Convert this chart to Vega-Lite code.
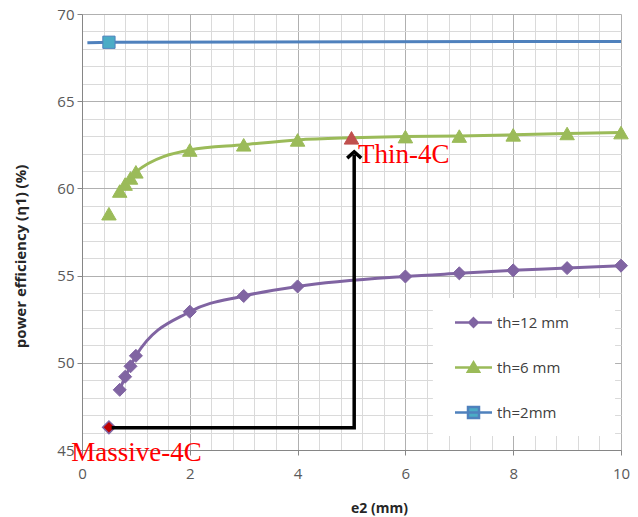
{
  "$schema": "https://vega.github.io/schema/vega-lite/v6.json",
  "width": 539,
  "height": 436,
  "autosize": {"type": "none"},
  "padding": {"left": 82, "top": 14, "right": 17, "bottom": 67},
  "background": "white",
  "config": {"view": {"stroke": null}, "font": "Open Sans"},
  "resolve": {"axis": {"x": "independent", "y": "independent"}},
  "datasets": {
    "series": [
      {"s": "th=12 mm", "x": 0.5, "y": 46.3, "ln": 0, "pt": 0, "hl": 1},
      {"s": "th=12 mm", "x": 0.7, "y": 48.45, "ln": 1, "pt": 1, "hl": 0},
      {"s": "th=12 mm", "x": 0.8, "y": 49.2, "ln": 1, "pt": 1, "hl": 0},
      {"s": "th=12 mm", "x": 0.9, "y": 49.8, "ln": 1, "pt": 1, "hl": 0},
      {"s": "th=12 mm", "x": 1.0, "y": 50.4, "ln": 1, "pt": 1, "hl": 0},
      {"s": "th=12 mm", "x": 2, "y": 52.93, "ln": 1, "pt": 1, "hl": 0},
      {"s": "th=12 mm", "x": 3, "y": 53.83, "ln": 1, "pt": 1, "hl": 0},
      {"s": "th=12 mm", "x": 4, "y": 54.38, "ln": 1, "pt": 1, "hl": 0},
      {"s": "th=12 mm", "x": 6, "y": 54.95, "ln": 1, "pt": 1, "hl": 0},
      {"s": "th=12 mm", "x": 7, "y": 55.13, "ln": 1, "pt": 1, "hl": 0},
      {"s": "th=12 mm", "x": 8, "y": 55.3, "ln": 1, "pt": 1, "hl": 0},
      {"s": "th=12 mm", "x": 9, "y": 55.43, "ln": 1, "pt": 1, "hl": 0},
      {"s": "th=12 mm", "x": 10, "y": 55.57, "ln": 1, "pt": 1, "hl": 0},
      {"s": "th=6 mm", "x": 0.5, "y": 58.55, "ln": 0, "pt": 1, "hl": 0},
      {"s": "th=6 mm", "x": 0.7, "y": 59.85, "ln": 1, "pt": 1, "hl": 0},
      {"s": "th=6 mm", "x": 0.8, "y": 60.25, "ln": 1, "pt": 1, "hl": 0},
      {"s": "th=6 mm", "x": 0.9, "y": 60.6, "ln": 1, "pt": 1, "hl": 0},
      {"s": "th=6 mm", "x": 1.0, "y": 60.95, "ln": 1, "pt": 1, "hl": 0},
      {"s": "th=6 mm", "x": 2, "y": 62.2, "ln": 1, "pt": 1, "hl": 0},
      {"s": "th=6 mm", "x": 3, "y": 62.5, "ln": 1, "pt": 1, "hl": 0},
      {"s": "th=6 mm", "x": 4, "y": 62.78, "ln": 1, "pt": 1, "hl": 0},
      {"s": "th=6 mm", "x": 5, "y": 62.9, "ln": 1, "pt": 0, "hl": 1},
      {"s": "th=6 mm", "x": 6, "y": 62.97, "ln": 1, "pt": 1, "hl": 0},
      {"s": "th=6 mm", "x": 7, "y": 63.0, "ln": 1, "pt": 1, "hl": 0},
      {"s": "th=6 mm", "x": 8, "y": 63.07, "ln": 1, "pt": 1, "hl": 0},
      {"s": "th=6 mm", "x": 9, "y": 63.15, "ln": 1, "pt": 1, "hl": 0},
      {"s": "th=6 mm", "x": 10, "y": 63.2, "ln": 1, "pt": 1, "hl": 0},
      {"s": "th=2mm", "x": 0.1, "y": 68.35, "ln": 1, "pt": 0, "hl": 0},
      {"s": "th=2mm", "x": 0.5, "y": 68.38, "ln": 1, "pt": 1, "hl": 0},
      {"s": "th=2mm", "x": 10, "y": 68.43, "ln": 1, "pt": 0, "hl": 0}
    ],
    "arrow": [
      {"x": 0.55, "y": 46.28, "k": 1},
      {"x": 5.05, "y": 46.28, "k": 2},
      {"x": 5.05, "y": 61.95, "k": 3}
    ],
    "head": [{"x": 5.05, "y": 62.1}],
    "notes": [
      {"t": "Massive-4C", "x": -0.2, "y": 44.36},
      {"t": "Thin-4C", "x": 5.12, "y": 61.45}
    ]
  },
  "layer": [
    {
      "data": {"values": [{}]},
      "mark": {"type": "rect", "fill": "white"},
      "encoding": {
        "x": {
          "datum": 6.51,
          "type": "quantitative",
          "scale": {"domain": [0, 10], "nice": false, "zero": false},
          "axis": {
            "orient": "bottom",
            "title": null,
            "values": [0, 0.4, 0.8, 1.2, 1.6, 2.4, 2.8, 3.2, 3.6, 4.4, 4.8, 5.2, 5.6, 6.4, 6.8, 7.2, 7.6, 8.4, 8.8, 9.2, 9.6],
            "labels": false,
            "ticks": false,
            "domain": false,
            "grid": true,
            "gridColor": "#dadada",
            "gridWidth": 1
          }
        },
        "x2": {"datum": 9.89},
        "y": {
          "datum": 53.72,
          "type": "quantitative",
          "scale": {"domain": [45, 70], "nice": false, "zero": false},
          "axis": {
            "orient": "left",
            "title": null,
            "values": [46, 47, 48, 49, 51, 52, 53, 54, 56, 57, 58, 59, 61, 62, 63, 64, 66, 67, 68, 69],
            "labels": false,
            "ticks": false,
            "domain": false,
            "grid": true,
            "gridColor": "#dadada",
            "gridWidth": 1
          }
        },
        "y2": {"datum": 45.8}
      }
    },
    {
      "data": {"name": "series"},
      "transform": [{"filter": "datum.ln == 1"}],
      "mark": {"type": "line", "interpolate": "monotone", "strokeWidth": 3},
      "encoding": {
        "x": {
          "field": "x",
          "type": "quantitative",
          "axis": {
            "orient": "bottom",
            "title": "e2 (mm)",
            "titleFontSize": 14,
            "titleFontWeight": "bold",
            "titleColor": "#262626",
            "titleX": 297,
            "titleY": 58,
            "titleAlign": "center",
            "titleAnchor": null,
            "titleBaseline": "middle",
            "values": [0, 2, 4, 6, 8, 10],
            "labelOverlap": false,
            "labelFlush": false,
            "labelFontSize": 15,
            "labelColor": "#595959",
            "labelPadding": 11,
            "tickSize": 5,
            "tickColor": "#868686",
            "grid": true,
            "gridColor": "#b0b0b0",
            "gridWidth": 1,
            "domainColor": "#868686"
          }
        },
        "y": {
          "field": "y",
          "type": "quantitative",
          "axis": {
            "orient": "left",
            "title": "power efficiency (η1) (%)",
            "titleFontSize": 15,
            "titleFontWeight": "bold",
            "titleColor": "#262626",
            "titleX": -62,
            "titleY": 242,
            "titleAlign": "center",
            "titleAnchor": null,
            "titleBaseline": "middle",
            "titleAngle": 270,
            "values": [45, 50, 55, 60, 65, 70],
            "labelOverlap": false,
            "labelFlush": false,
            "labelFontSize": 15,
            "labelColor": "#595959",
            "labelPadding": 3,
            "tickSize": 5,
            "tickColor": "#868686",
            "grid": true,
            "gridColor": "#b0b0b0",
            "gridWidth": 1,
            "domainColor": "#868686"
          }
        },
        "color": {
          "field": "s",
          "type": "nominal",
          "scale": {"domain": ["th=12 mm", "th=6 mm", "th=2mm"], "range": ["#8064a2", "#9bbb59", "#4f81bd"]},
          "legend": {
            "orient": "none",
            "legendX": 380,
            "legendY": 297,
            "title": null,
            "padding": 0,
            "symbolSize": 400,
            "symbolOpacity": 1,
            "labelFontSize": 15,
            "labelColor": "#404040",
            "labelOffset": 12,
            "rowPadding": 24,
            "encode": {
              "symbols": {
                "update": {
                  "shape": {"signal": "datum.value == 'th=12 mm' ? 'M-1.85,0H1.85M0,-0.42L0.42,0L0,0.42L-0.42,0Z' : datum.value == 'th=6 mm' ? 'M-1.85,0H1.85M0,-0.5L0.55,0.42L-0.55,0.42Z' : 'M-1.85,0H1.85M-0.55,-0.55H0.55V0.55H-0.55Z'"},
                  "stroke": {"signal": "datum.value == 'th=12 mm' ? '#8064a2' : datum.value == 'th=6 mm' ? '#9bbb59' : '#4bacc6'"},
                  "fill": {"signal": "datum.value == 'th=12 mm' ? '#8064a2' : datum.value == 'th=6 mm' ? '#9bbb59' : '#4bacc6'"},
                  "strokeWidth": {"value": 2.5},
                  "opacity": {"value": 1}
                }
              }
            }
          }
        }
      }
    },
    {
      "data": {"name": "series"},
      "transform": [{"filter": "datum.pt == 1 && datum.s == 'th=12 mm'"}],
      "mark": {"type": "point", "shape": "diamond", "filled": true, "opacity": 1, "size": 170, "fill": "#8064a2", "stroke": "#8064a2", "strokeWidth": 1},
      "encoding": {
        "x": {"field": "x", "type": "quantitative", "axis": null},
        "y": {"field": "y", "type": "quantitative", "axis": null}
      }
    },
    {
      "data": {"name": "series"},
      "transform": [{"filter": "datum.pt == 1 && datum.s == 'th=6 mm'"}],
      "mark": {"type": "point", "shape": "triangle-up", "filled": true, "opacity": 1, "size": 210, "fill": "#9bbb59", "stroke": "#9bbb59", "strokeWidth": 1},
      "encoding": {
        "x": {"field": "x", "type": "quantitative", "axis": null},
        "y": {"field": "y", "type": "quantitative", "axis": null}
      }
    },
    {
      "data": {"name": "series"},
      "transform": [{"filter": "datum.pt == 1 && datum.s == 'th=2mm'"}],
      "mark": {"type": "point", "shape": "square", "filled": true, "opacity": 1, "size": 150, "fill": "#4bacc6", "stroke": "#4f81bd", "strokeWidth": 1},
      "encoding": {
        "x": {"field": "x", "type": "quantitative", "axis": null},
        "y": {"field": "y", "type": "quantitative", "axis": null}
      }
    },
    {
      "data": {"name": "series"},
      "transform": [{"filter": "datum.hl == 1 && datum.s == 'th=12 mm'"}],
      "mark": {"type": "point", "shape": "diamond", "filled": true, "opacity": 1, "size": 160, "fill": "#c00000", "stroke": "#8064a2", "strokeWidth": 1.5},
      "encoding": {
        "x": {"field": "x", "type": "quantitative", "axis": null},
        "y": {"field": "y", "type": "quantitative", "axis": null}
      }
    },
    {
      "data": {"name": "series"},
      "transform": [{"filter": "datum.hl == 1 && datum.s == 'th=6 mm'"}],
      "mark": {"type": "point", "shape": "triangle-up", "filled": true, "opacity": 1, "size": 210, "fill": "#c0504d", "stroke": "#c0504d", "strokeWidth": 1},
      "encoding": {
        "x": {"field": "x", "type": "quantitative", "axis": null},
        "y": {"field": "y", "type": "quantitative", "axis": null}
      }
    },
    {
      "data": {"name": "arrow"},
      "mark": {"type": "line", "color": "black", "strokeWidth": 3.5, "strokeJoin": "miter"},
      "encoding": {
        "x": {"field": "x", "type": "quantitative", "axis": null},
        "y": {"field": "y", "type": "quantitative", "axis": null},
        "order": {"field": "k", "type": "quantitative"}
      }
    },
    {
      "data": {"name": "head"},
      "mark": {"type": "point", "shape": "M-1,0.9L0,0L1,0.9", "filled": false, "opacity": 1, "size": 196, "stroke": "black", "strokeWidth": 3.5, "strokeJoin": "miter"},
      "encoding": {
        "x": {"field": "x", "type": "quantitative", "axis": null},
        "y": {"field": "y", "type": "quantitative", "axis": null}
      }
    },
    {
      "data": {"name": "notes"},
      "mark": {"type": "text", "align": "left", "baseline": "alphabetic", "font": "Liberation Serif", "fontSize": 27, "color": "#ff0000"},
      "encoding": {
        "x": {"field": "x", "type": "quantitative", "axis": null},
        "y": {"field": "y", "type": "quantitative", "axis": null},
        "text": {"field": "t"}
      }
    }
  ]
}
